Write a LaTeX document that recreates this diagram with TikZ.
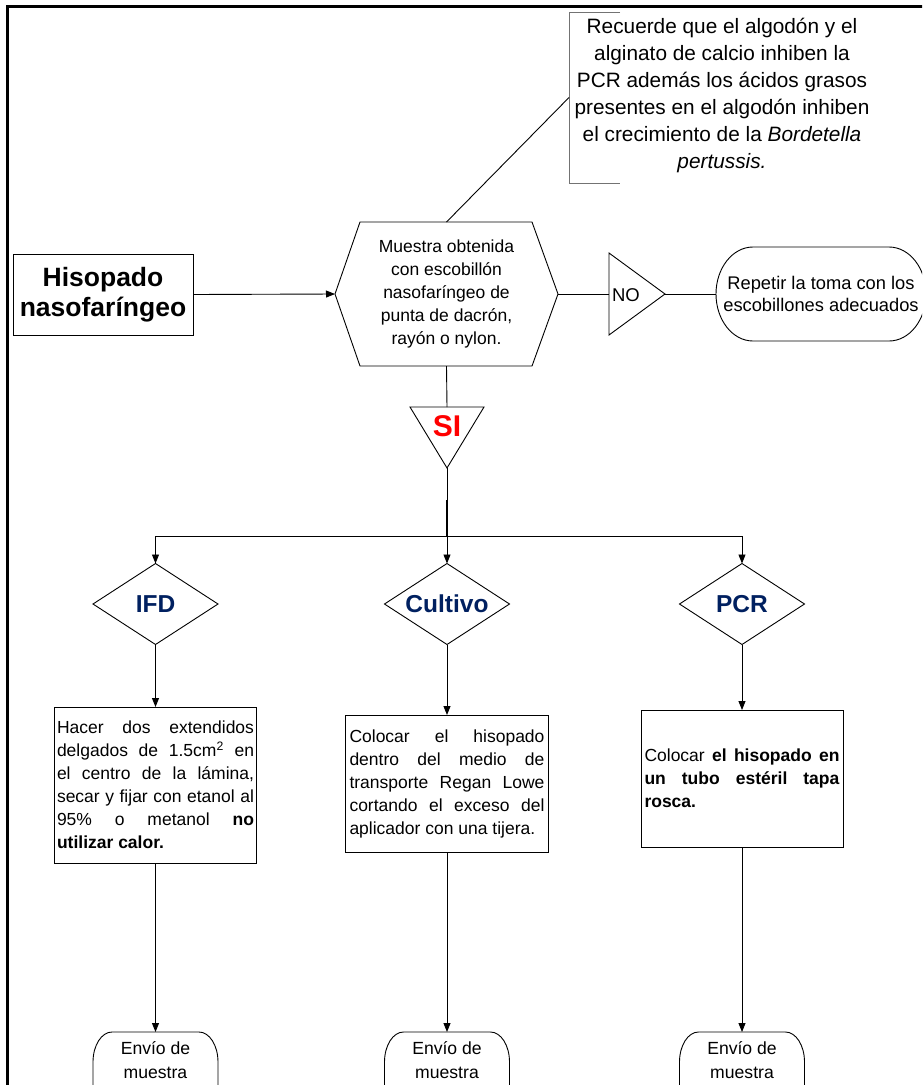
\documentclass[tikz,border=0pt]{standalone}
\usepackage{fontspec}
\setmainfont{Liberation Sans}
\usetikzlibrary{arrows.meta,calc}
\definecolor{navy}{RGB}{0,32,96}
\newcommand\fs[2]{\fontsize{#1}{#2}\selectfont}
\newcommand\jl[2]{\makebox[#1][s]{#2}}
\begin{document}
\begin{tikzpicture}[x=1pt,y=1pt,
 ln/.style={line width=0.9pt, draw=black},
 arr/.style={ln,-{Triangle[length=9pt,width=7pt]}},
 shp/.style={inner sep=0pt, outer sep=0pt},
 box/.style={draw, line width=0.9pt, inner sep=2pt, outer sep=0pt, align=left, font=\fs{17.5}{23}},
 dia/.style={shp, minimum width=125, minimum height=81, font=\bfseries\fs{24.5}{26}, text=navy},
 term/.style={shp, minimum width=125, minimum height=56, align=center, font=\fs{17.6}{24}},
]
\useasboundingbox (0,0) rectangle (922,-1085);
\fill[white] (0,0) rectangle (922,-1085);
\clip (0,0) rectangle (922,-1085);

% frame
\draw[line width=2.5pt] (7.5,-1095) -- (7.5,-6.5) -- (930,-6.5);

% start box
\node[draw, line width=1pt, shp, minimum width=180, minimum height=81, align=center, font=\bfseries\fs{26.5}{30}] (hiso) at (103,-294.5) {Hisopado\\nasofaríngeo};

% hexagon
\node[shp, minimum width=223, minimum height=144, align=center, font=\fs{17.5}{23.2}] (hex) at (446.5,-294) {Muestra obtenida\\con escobillón\\nasofaríngeo de\\punta de dacrón,\\rayón o nylon.};
\draw[ln] ($(hex.north west)+(25,0)$) -- ($(hex.north east)+(-26,0)$) -- (hex.east) -- ($(hex.south east)+(-26,0)$) -- ($(hex.south west)+(25,0)$) -- (hex.west) -- cycle;

% note
\node[shp, minimum width=306, minimum height=171] (note) at (722,-97.5) {};
\node[shp, align=center, font=\fs{20.8}{27}] (notetext) at (722,-95) {Recuerde que el algodón y el\\alginato de calcio inhiben la\\PCR además los ácidos grasos\\presentes en el algodón inhiben\\el crecimiento de la \textit{Bordetella}\\\textit{pertussis.}};
\draw[line width=1pt, draw=black!55] ($(note.north west)+(51,0)$) -- (note.north west) -- (note.south west) -- ($(note.south west)+(51,0)$);

% NO triangle
\node[shp, minimum width=56, minimum height=82] (no) at (637,-294) {};
\draw[ln] (no.north west) -- (no.east) -- (no.south west) -- cycle;
\node[shp, font=\fs{18.5}{22}] (nolabel) at (626,-295) {NO};

% repeat terminal
\node[shp, minimum width=210, minimum height=94, align=center, font=\fs{18.3}{22}] (rep) at (821,-294) {Repetir la toma con los\\escobillones adecuados};
\draw[ln] ($(rep.north west)+(37,0)$) -- ($(rep.north east)+(-37,0)$) arc[start angle=90,end angle=-90,x radius=37,y radius=47] -- ($(rep.south west)+(37,0)$) arc[start angle=270,end angle=90,x radius=37,y radius=47] -- cycle;

% SI triangle
\node[shp, minimum width=74, minimum height=61] (si) at (447,-437.5) {};
\draw[ln] (si.north west) -- (si.north east) -- (si.south) -- cycle;
\node[shp, font=\bfseries\fs{30}{32}, text=red] (silabel) at (447,-426) {SI};

% diamonds
\node[dia] (d1) at (155.5,-604) {IFD};
\node[dia] (d2) at (447,-604) {Cultivo};
\node[dia] (d3) at (742,-604) {PCR};
\foreach \d in {d1,d2,d3}{\draw[ln] (\d.north) -- (\d.east) -- (\d.south) -- (\d.west) -- cycle;}

% boxes
\node[box, minimum width=202, minimum height=156] (b1) at (155.5,-785) {\jl{197pt}{Hacer dos extendidos}\\\jl{197pt}{delgados de 1.5cm\textsuperscript{2} en}\\\jl{197pt}{el centro de la lámina,}\\\jl{197pt}{secar y fijar con etanol al}\\\jl{197pt}{95\% o metanol \textbf{no}}\\\textbf{utilizar calor.}};
\node[box, minimum width=203, minimum height=137] (b2) at (447,-783.5) {\jl{195pt}{Colocar el hisopado}\\\jl{195pt}{dentro del medio de}\\\jl{195pt}{transporte Regan Lowe}\\\jl{195pt}{cortando el exceso del}\\aplicador con una tijera.};
\node[box, minimum width=202, minimum height=137] (b3) at (742,-778.5) {\jl{195pt}{Colocar \textbf{el hisopado en}}\\\jl{195pt}{\textbf{un tubo estéril tapa}}\\\textbf{rosca.}};

% end terminals
\node[term] (t1) at (155.5,-1060) {Envío de\\muestra};
\node[term] (t2) at (447,-1060) {Envío de\\muestra};
\node[term] (t3) at (742,-1060) {Envío de\\muestra};
\foreach \t in {t1,t2,t3}{\draw[ln] ($(\t.north west)+(0,-90)$) -- ($(\t.north west)+(0,-30)$) arc[start angle=180,end angle=90,x radius=19,y radius=30] -- ($(\t.north east)+(-19,0)$) arc[start angle=90,end angle=0,x radius=19,y radius=30] -- ($(\t.north east)+(0,-90)$);}

% connectors
\draw[arr] (hiso.east) -- (hex.west);
\draw[ln] (hex.east) -- (no.west);
\draw[ln] (no.east) -- (rep.west);
\draw[ln] (hex.north) -- (note.west);
\draw[ln] (hex.south) -- (si.north);
\coordinate (br) at (447,-536);
\draw[ln] (si.south) -- (br);
\draw[line width=1.8pt] ($(br)+(0,36)$) -- (br);
\draw[arr] (br) -| (d1.north);
\draw[arr] (br) -- (d2.north);
\draw[arr] (br) -| (d3.north);
\draw[arr] (d1.south) -- (b1.north);
\draw[arr] (d2.south) -- (b2.north);
\draw[arr] (d3.south) -- (b3.north);
\draw[arr] (b1.south) -- (t1.north);
\draw[arr] (b2.south) -- (t2.north);
\draw[arr] (b3.south) -- (t3.north);
\end{tikzpicture}
\end{document}
